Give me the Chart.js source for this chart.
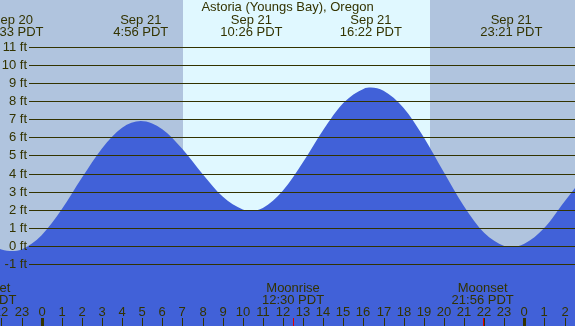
<!DOCTYPE html>
<html>
<head>
<meta charset="utf-8">
<script src="https://cdn.jsdelivr.net/npm/chart.js@4/dist/chart.umd.min.js"></script>
<style>
    html, body { margin: 0; padding: 0; background: #b0c4de; }
    #tide { display: block; }
</style>
</head>
<body>
<canvas id="tide" width="575" height="326"></canvas>
<script>
// ---- Data (hours counted from Sep 21 00:00 PDT, heights in ft) ------------
const tideHours = [-3, -2, -1.45, -1, 0, 1, 2, 3, 4, 4.93, 6, 7, 8, 9, 10, 10.43,
    11, 12, 13, 14, 15, 16, 16.37, 17, 18, 19, 20, 21, 22, 23, 23.35, 24, 25, 26, 27];
const tideFeet = [0.7, -0.2, -0.28, -0.19, 0.6, 2.03, 3.77, 5.39, 6.53, 6.9, 6.45, 5.36,
    3.98, 2.73, 2.02, 1.95, 2.1, 3.06, 4.64, 6.41, 7.9, 8.68, 8.75, 8.57, 7.62, 6.01,
    4.07, 2.19, 0.73, 0.0, -0.05, 0.12, 1.01, 2.46, 3.9];

// high / low tide labels along the top
const extremeHours = [-1.45, 4.93, 10.43, 16.37, 23.35];
const extremeDates = ["Sep 20", "Sep 21", "Sep 21", "Sep 21", "Sep 21"];
const extremeTimes = ["22:33 PDT", "4:56 PDT", "10:26 PDT", "16:22 PDT", "23:21 PDT"];

// moon events along the bottom
const moonHours = [-2.8, 12.5, 21.93];
const moonNames = ["Moonset", "Moonrise", "Moonset"];
const moonTimes = ["21:12 PDT", "12:30 PDT", "21:56 PDT"];

// sunrise / sunset (daylight band)
const sunriseHour = 7.03;
const sunsetHour = 19.33;

// axis ticks
const feetTicks = [-1, 0, 1, 2, 3, 4, 5, 6, 7, 8, 9, 10, 11];
const hourTicks = [-2, -1, 0, 1, 2, 3, 4, 5, 6, 7, 8, 9, 10, 11, 12, 13, 14, 15, 16,
    17, 18, 19, 20, 21, 22, 23, 24, 25, 26];
const hourLabels = ["22", "23", "0", "1", "2", "3", "4", "5", "6", "7", "8", "9", "10",
    "11", "12", "13", "14", "15", "16", "17", "18", "19", "20", "21", "22", "23", "0", "1", "2"];
const midnightHours = [0, 24];

const TITLE = "Astoria (Youngs Bay), Oregon";

// ---- Look -----------------------------------------------------------------
const NIGHT = "#b0c4de";
const DAY = "#e0f8ff";
const WATER = "#4161d8";
const INK = "#333300";
const FONT = "13px 'Liberation Sans', Arial, sans-serif";

// ---- Decorations drawn through the chart's scales -------------------------
const tideDecor = {
    id: "tideDecor",
    beforeDatasetsDraw(chart) {
        const { ctx, chartArea: a, scales: { x } } = chart;
        const sr = x.getPixelForValue(sunriseHour);
        const ss = x.getPixelForValue(sunsetHour);
        ctx.save();
        ctx.fillStyle = NIGHT;
        ctx.fillRect(a.left, a.top, a.right - a.left, a.bottom - a.top);
        ctx.fillStyle = DAY;
        ctx.fillRect(Math.round(sr), a.top, Math.round(ss) - Math.round(sr), a.bottom - a.top);
        ctx.restore();
    },
    afterDatasetsDraw(chart) {
        const { ctx, chartArea: a, scales: { x, y } } = chart;
        ctx.save();
        ctx.font = FONT;
        ctx.fillStyle = INK;
        ctx.strokeStyle = INK;

        // horizontal ft lines + labels
        ctx.lineWidth = 1;
        ctx.textAlign = "right";
        ctx.textBaseline = "middle";
        feetTicks.forEach((f) => {
            const py = Math.round(y.getPixelForValue(f)) + 0.5;
            ctx.beginPath();
            ctx.moveTo(29, py);
            ctx.lineTo(a.right, py);
            ctx.stroke();
            ctx.fillText(f + " ft", 27, py);
        });

        // title + tide extremes
        ctx.textAlign = "center";
        ctx.fillText(TITLE, (a.left + a.right) / 2, 7);
        extremeHours.forEach((h, i) => {
            const px = x.getPixelForValue(h);
            ctx.fillText(extremeDates[i], px, 20);
            ctx.fillText(extremeTimes[i], px, 32);
        });

        // moon events
        moonHours.forEach((h, i) => {
            const px = x.getPixelForValue(h);
            ctx.fillText(moonNames[i], px, 288);
            ctx.fillText(moonTimes[i], px, 300);
        });

        // hour labels + ticks
        hourTicks.forEach((h, i) => {
            const px = Math.round(x.getPixelForValue(h));
            ctx.fillText(hourLabels[i], px, 312);
            const w = midnightHours.includes(h) ? 3 : 1;
            ctx.fillRect(px - Math.floor(w / 2), 318, w, a.bottom - 318);
        });

        ctx.fillStyle = "#dd0000";
        moonHours.forEach((h) => {
            const px = Math.round(x.getPixelForValue(h));
            ctx.fillRect(px, 318, 1, a.bottom - 318);
        });
        ctx.restore();
    },
};

new Chart(document.getElementById("tide"), {
    type: "line",
    data: {
        datasets: [
            {
                data: tideHours.map((h, i) => ({ x: h, y: tideFeet[i] })),
                fill: "start",
                backgroundColor: WATER,
                borderWidth: 0,
                pointRadius: 0,
                cubicInterpolationMode: "monotone",
            },
        ],
    },
    options: {
        responsive: false,
        animation: false,
        devicePixelRatio: 1,
        layout: { padding: 0 },
        plugins: { legend: { display: false }, tooltip: { enabled: false } },
        scales: {
            x: { type: "linear", min: -2.07, max: 26.52, display: false },
            y: { min: -4.42, max: 13.59, display: false },
        },
    },
    plugins: [tideDecor],
});
</script>
</body>
</html>
